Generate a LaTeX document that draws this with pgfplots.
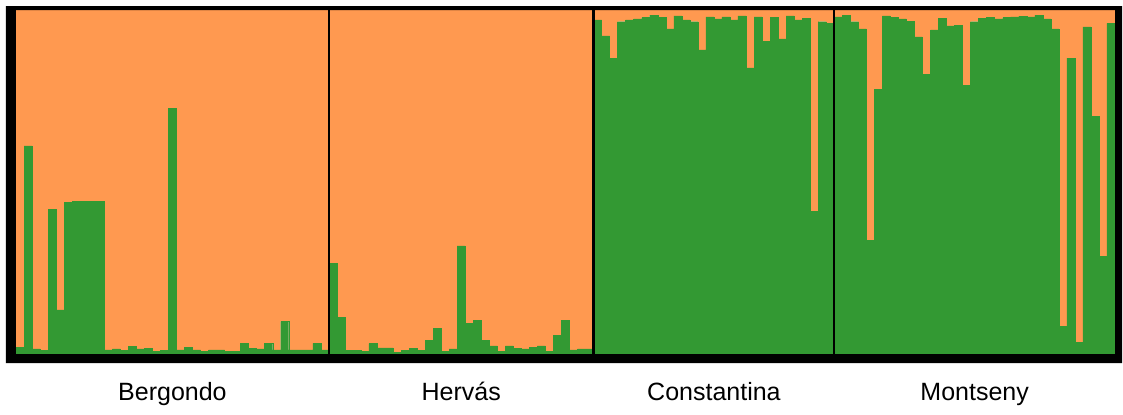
\documentclass[border=0pt]{standalone}
\usepackage{pgfplots}
\usepackage{pgfplotstable}
\usepackage{fontspec}
\setmainfont{Liberation Sans}
\pgfplotsset{compat=1.18}

\definecolor{clA}{RGB}{255,153,80}
\definecolor{clB}{RGB}{51,153,51}

% membership coefficient of cluster B (green) per individual
\pgfplotstableread{
g
0.020
0.605
0.015
0.010
0.420
0.128
0.440
0.443
0.443
0.443
0.444
0.012
0.015
0.010
0.023
0.015
0.016
0.007
0.010
0.714
0.012
0.020
0.012
0.007
0.012
0.012
0.007
0.007
0.030
0.016
0.015
0.031
0.012
0.094
0.012
0.012
0.012
0.031
0.012
0.264
0.107
0.010
0.010
0.007
0.030
0.018
0.018
0.005
0.010
0.016
0.010
0.039
0.075
0.007
0.015
0.314
0.089
0.097
0.040
0.024
0.007
0.024
0.016
0.015
0.020
0.024
0.007
0.055
0.097
0.012
0.015
0.015
0.971
0.925
0.860
0.966
0.971
0.974
0.978
0.985
0.978
0.945
0.983
0.971
0.966
0.884
0.980
0.974
0.980
0.971
0.983
0.832
0.980
0.908
0.978
0.916
0.983
0.971
0.976
0.414
0.966
0.961
0.980
0.985
0.966
0.945
0.331
0.770
0.983
0.978
0.974
0.968
0.922
0.813
0.942
0.976
0.954
0.956
0.780
0.966
0.976
0.978
0.974
0.978
0.980
0.982
0.980
0.985
0.974
0.945
0.081
0.860
0.033
0.951
0.690
0.283
0.961
}\membership

\begin{document}
\begin{tikzpicture}
\begin{axis}[
  scale only axis,
  width=549.5pt, height=172pt,
  xmin=0, xmax=137, ymin=0, ymax=1,
  enlargelimits=false,
  hide axis,
  clip=false,
  ybar stacked,
  bar width=1,
]
\addplot[fill=clB, draw=clB, line width=0.2pt]
  table[x expr=\coordindex+0.5, y index=0] {\membership};
\addplot[fill=clA, draw=clA, line width=0.2pt]
  table[x expr=\coordindex+0.5, y index=0, y expr=1-\thisrow{g}] {\membership};

% corners and population boundaries, used after the axis is drawn
\coordinate (ll) at (rel axis cs:0,0);
\coordinate (ur) at (rel axis cs:1,1);
\coordinate (s1b) at (axis cs:39,0);  \coordinate (s1t) at (axis cs:39,1);
\coordinate (s2b) at (axis cs:72,0);  \coordinate (s2t) at (axis cs:72,1);
\coordinate (s3b) at (axis cs:102,0); \coordinate (s3t) at (axis cs:102,1);

% population names
\node[anchor=base, font=\fontsize{12.5}{14}\selectfont, yshift=-23pt] at (axis cs:19.5,0) {Bergondo};
\node[anchor=base, font=\fontsize{12.5}{14}\selectfont, yshift=-23pt] at (axis cs:55.5,0) {Herv\'as};
\node[anchor=base, font=\fontsize{12.5}{14}\selectfont, yshift=-23pt] at (axis cs:87,0) {Constantina};
\node[anchor=base, font=\fontsize{12.5}{14}\selectfont, yshift=-23pt] at (axis cs:119.5,0) {Montseny};
\end{axis}

% population separators
\draw[black, line width=1.1pt] (s1b) -- (s1t);
\draw[black, line width=1.1pt] (s2b) -- (s2t);
\draw[black, line width=1.1pt] (s3b) -- (s3t);

% heavy frame
\fill[black, even odd rule]
  ([xshift=-5pt,yshift=-4.5pt]ll) rectangle ([xshift=3.5pt,yshift=2pt]ur)
  (ll) rectangle (ur);

% page extent
\path ([xshift=-8pt,yshift=-30pt]ll) rectangle ([xshift=4pt,yshift=5pt]ur);
\end{tikzpicture}
\end{document}
